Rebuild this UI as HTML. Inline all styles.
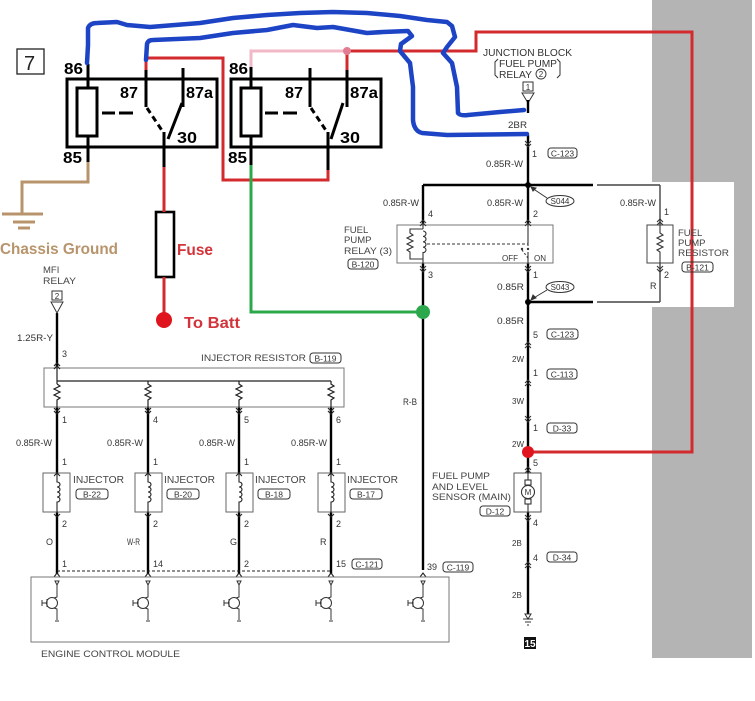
<!DOCTYPE html>
<html><head><meta charset="utf-8"><style>
html,body{margin:0;padding:0;background:#fff;}
svg{display:block;}
</style></head><body>
<svg width="755" height="701" viewBox="0 0 755 701" xmlns="http://www.w3.org/2000/svg" font-family="'Liberation Sans', Arial, sans-serif">
<rect width="755" height="701" fill="#fff"/>
<!-- gray panel -->
<rect x="652" y="0" width="100" height="658" fill="#b4b4b4"/>
<rect x="600" y="182" width="134" height="125" fill="#fff"/>

<!-- box 7 -->
<rect x="17" y="49" width="27" height="25" fill="none" stroke="#222" stroke-width="1.3"/>
<text x="24" y="70" font-size="20" fill="#222">7</text>

<!-- ============ RELAYS ============ -->
<g stroke="#000" stroke-width="3" fill="none">
  <rect x="67" y="79" width="150" height="68"/>
  <rect x="77" y="88" width="20" height="48"/>
  <line x1="88" y1="64" x2="88" y2="88"/>
  <line x1="88" y1="136" x2="88" y2="162"/>
  <line x1="146" y1="70" x2="146" y2="107"/>
  <line x1="183" y1="68" x2="183" y2="107"/>
  <line x1="182" y1="103" x2="168" y2="139"/>
  <line x1="147" y1="108" x2="163" y2="132" stroke-dasharray="6,4"/>
  <line x1="164" y1="132" x2="164" y2="167"/>
  <line x1="102" y1="113" x2="115" y2="113"/>
  <line x1="119" y1="113" x2="133" y2="113"/>

  <rect x="231" y="79" width="150" height="68"/>
  <rect x="241" y="88" width="20" height="48"/>
  <line x1="251" y1="67" x2="251" y2="88"/>
  <line x1="251" y1="136" x2="251" y2="165"/>
  <line x1="310" y1="68" x2="310" y2="107"/>
  <line x1="347" y1="70" x2="347" y2="107"/>
  <line x1="343" y1="103" x2="331" y2="139"/>
  <line x1="311" y1="108" x2="327" y2="132" stroke-dasharray="6,4"/>
  <line x1="328" y1="132" x2="328" y2="170"/>
  <line x1="265" y1="113" x2="278" y2="113"/>
  <line x1="283" y1="113" x2="297" y2="113"/>
</g>
<g font-size="16" font-weight="bold" fill="#000">
  <text x="64" y="74" textLength="19" lengthAdjust="spacingAndGlyphs">86</text>
  <text x="63" y="163" textLength="19" lengthAdjust="spacingAndGlyphs">85</text>
  <text x="120" y="98" textLength="18" lengthAdjust="spacingAndGlyphs">87</text>
  <text x="186" y="98" textLength="27" lengthAdjust="spacingAndGlyphs">87a</text>
  <text x="177" y="143" textLength="20" lengthAdjust="spacingAndGlyphs">30</text>
  <text x="229" y="74" textLength="19" lengthAdjust="spacingAndGlyphs">86</text>
  <text x="228" y="163" textLength="19" lengthAdjust="spacingAndGlyphs">85</text>
  <text x="285" y="98" textLength="18" lengthAdjust="spacingAndGlyphs">87</text>
  <text x="350" y="98" textLength="28" lengthAdjust="spacingAndGlyphs">87a</text>
  <text x="340" y="143" textLength="20" lengthAdjust="spacingAndGlyphs">30</text>
</g>

<!-- fuse -->
<rect x="156" y="212" width="18" height="65" fill="#fff" stroke="#000" stroke-width="2.6"/>

<!-- tan ground -->
<g stroke="#b8946c" stroke-width="3" fill="none">
  <path d="M88,162 L88,182 L22,182 L22,214"/>
  <line x1="2" y1="214" x2="43" y2="214"/>
  <line x1="13" y1="222" x2="35" y2="222"/>
  <line x1="18" y1="228" x2="30" y2="228"/>
</g>
<text x="0" y="254" font-size="16" font-weight="bold" fill="#b8946c" textLength="118" lengthAdjust="spacingAndGlyphs">Chassis Ground</text>

<!-- red/pink wires -->
<g fill="none" stroke-linejoin="miter">
  <path d="M146,70 L146,58 L223,58 L223,180 L328,180 L328,170" stroke="#d32a2e" stroke-width="3"/>
  <path d="M164,167 L164,212 M164,277 L164,318" stroke="#d32a2e" stroke-width="3"/>
  <path d="M251,67 L251,51 L347,51" stroke="#f2b8c8" stroke-width="3"/>
  <path d="M347,51 L476,51 L476,32 L692,32 L692,452 L528,452" stroke="#d32a2e" stroke-width="3"/>
  <path d="M347,51 L347,70" stroke="#d32a2e" stroke-width="3"/>
</g>
<circle cx="347" cy="51" r="4" fill="#e27c92"/>
<circle cx="164" cy="320" r="8" fill="#e0141e"/>
<text x="177" y="255" font-size="16" font-weight="bold" fill="#d3343a" textLength="36" lengthAdjust="spacingAndGlyphs">Fuse</text>
<text x="184" y="328" font-size="16" font-weight="bold" fill="#d3343a" textLength="56" lengthAdjust="spacingAndGlyphs">To Batt</text>

<!-- green -->
<path d="M251,165 L251,312 L423,312" fill="none" stroke="#2ca84c" stroke-width="3"/>

<!-- ============ RIGHT SCHEMATIC ============ -->
<g font-size="10" fill="#333">
  <text x="483" y="56" textLength="89" lengthAdjust="spacingAndGlyphs">JUNCTION BLOCK</text>
  <text x="499" y="67" textLength="58" lengthAdjust="spacingAndGlyphs">FUEL PUMP</text>
  <text x="499" y="78" textLength="33" lengthAdjust="spacingAndGlyphs">RELAY</text>
</g>
<circle cx="541" cy="74" r="5" fill="none" stroke="#333" stroke-width="0.9"/>
<text x="541" y="77" font-size="8" fill="#333" text-anchor="middle">2</text>
<path d="M498,59 L495,62 L495,75 L498,78 M557,59 L560,62 L560,75 L557,78" fill="none" stroke="#333" stroke-width="1"/>
<rect x="523" y="82" width="10" height="9" fill="#fff" stroke="#333" stroke-width="1"/>
<text x="528" y="90" font-size="8" fill="#333" text-anchor="middle">1</text>
<path d="M522,93 L534,93 L528,103 Z" fill="none" stroke="#333" stroke-width="1"/>
<line x1="528" y1="100" x2="528" y2="113" stroke="#000" stroke-width="2.4"/>

<!-- black wires -->
<g stroke="#000" stroke-width="2.4" fill="none">
  <line x1="528" y1="135" x2="528" y2="225"/>
  <line x1="528" y1="263" x2="528" y2="473"/>
  <line x1="528" y1="512" x2="528" y2="614"/>
  <line x1="423" y1="185" x2="423" y2="225"/>
  <line x1="423" y1="263" x2="423" y2="570"/>
  <line x1="423" y1="185" x2="593" y2="185"/>
  <line x1="528" y1="302" x2="593" y2="302"/>
  <!-- left injector side -->
  <line x1="57" y1="313" x2="57" y2="368"/>
  <line x1="57" y1="407" x2="57" y2="473"/>
  <line x1="148" y1="407" x2="148" y2="473"/>
  <line x1="239" y1="407" x2="239" y2="473"/>
  <line x1="331" y1="407" x2="331" y2="473"/>
  <line x1="57" y1="512" x2="57" y2="574"/>
  <line x1="148" y1="512" x2="148" y2="574"/>
  <line x1="239" y1="512" x2="239" y2="574"/>
  <line x1="331" y1="512" x2="331" y2="574"/>
</g>
<g stroke="#444" stroke-width="1.4" fill="none">
  <line x1="597" y1="185" x2="660" y2="185"/>
  <line x1="660" y1="185" x2="660" y2="225"/>
  <line x1="660" y1="263" x2="660" y2="302"/>
  <line x1="597" y1="302" x2="660" y2="302"/>
</g>
<circle cx="528" cy="185" r="3" fill="#000"/>
<circle cx="528" cy="302" r="3" fill="#000"/>

<!-- small labels right -->
<g font-size="9" fill="#333" lengthAdjust="spacingAndGlyphs">
  <text x="508" y="128" textLength="19" lengthAdjust="spacingAndGlyphs">2BR</text>
  <text x="532" y="157">1</text>
  <text x="486" y="167" textLength="37" lengthAdjust="spacingAndGlyphs">0.85R-W</text>
  <text x="383" y="206" textLength="36" lengthAdjust="spacingAndGlyphs">0.85R-W</text>
  <text x="487" y="206" textLength="36" lengthAdjust="spacingAndGlyphs">0.85R-W</text>
  <text x="620" y="206" textLength="36" lengthAdjust="spacingAndGlyphs">0.85R-W</text>
  <text x="428" y="217">4</text>
  <text x="533" y="217">2</text>
  <text x="428" y="278">3</text>
  <text x="533" y="278">1</text>
  <text x="502" y="261" font-size="8">OFF</text>
  <text x="534" y="261" font-size="8">ON</text>
  <text x="497" y="290" textLength="27" lengthAdjust="spacingAndGlyphs">0.85R</text>
  <text x="497" y="324" textLength="27" lengthAdjust="spacingAndGlyphs">0.85R</text>
  <text x="533" y="338">5</text>
  <text x="664" y="215">1</text>
  <text x="664" y="278">2</text>
  <text x="650" y="289">R</text>
  <text x="512" y="362" font-size="8">2W</text>
  <text x="533" y="376">1</text>
  <text x="512" y="404" font-size="8">3W</text>
  <text x="533" y="431">1</text>
  <text x="512" y="447" font-size="8">2W</text>
  <text x="533" y="466">5</text>
  <text x="533" y="526">4</text>
  <text x="512" y="546" font-size="8">2B</text>
  <text x="533" y="561">4</text>
  <text x="512" y="598" font-size="8">2B</text>
  <text x="403" y="405" textLength="14" lengthAdjust="spacingAndGlyphs">R-B</text>
  <text x="427" y="570">39</text>
</g>
<g font-size="9.5" fill="#444">
  <text x="344" y="233">FUEL</text>
  <text x="344" y="243">PUMP</text>
  <text x="344" y="254" textLength="48" lengthAdjust="spacingAndGlyphs">RELAY (3)</text>
  <text x="678" y="236">FUEL</text>
  <text x="678" y="246">PUMP</text>
  <text x="678" y="256" textLength="51" lengthAdjust="spacingAndGlyphs">RESISTOR</text>
  <text x="432" y="479" textLength="58" lengthAdjust="spacingAndGlyphs">FUEL PUMP</text>
  <text x="432" y="490" textLength="56" lengthAdjust="spacingAndGlyphs">AND LEVEL</text>
  <text x="432" y="500" textLength="79" lengthAdjust="spacingAndGlyphs">SENSOR (MAIN)</text>
</g>

<!-- boxed connector labels -->
<g fill="none" stroke="#333" stroke-width="1">
  <rect x="548" y="148" width="29" height="10" rx="3"/>
  <rect x="348" y="259" width="30" height="10" rx="3"/>
  <rect x="547" y="329" width="31" height="10" rx="3"/>
  <rect x="682" y="262" width="31" height="10" rx="3"/>
  <rect x="547" y="369" width="30" height="10" rx="3"/>
  <rect x="547" y="423" width="30" height="10" rx="3"/>
  <rect x="480" y="506" width="30" height="10" rx="3"/>
  <rect x="547" y="552" width="30" height="10" rx="3"/>
  <rect x="443" y="562" width="30" height="10" rx="3"/>
  <ellipse cx="560" cy="201" rx="14" ry="5.5"/>
  <ellipse cx="560" cy="287" rx="14" ry="5.5"/>
</g>
<g font-size="8.5" fill="#333" text-anchor="middle">
  <text x="562.5" y="156.5">C-123</text>
  <text x="363" y="267.5">B-120</text>
  <text x="562.5" y="337.5">C-123</text>
  <text x="697.5" y="270.5">B-121</text>
  <text x="562" y="377.5">C-113</text>
  <text x="562" y="431.5">D-33</text>
  <text x="495" y="514.5">D-12</text>
  <text x="562" y="560.5">D-34</text>
  <text x="458" y="570.5">C-119</text>
  <text x="560" y="204" font-size="8">S044</text>
  <text x="560" y="290" font-size="8">S043</text>
</g>
<g stroke="#333" stroke-width="1" fill="#333">
  <line x1="547" y1="198" x2="532" y2="188"/>
  <path d="M531,187 L536,188 L533,191 Z"/>
  <line x1="547" y1="290" x2="532" y2="299"/>
  <path d="M531,300 L533,295 L536,298 Z"/>
</g>

<!-- fuel pump relay box -->
<rect x="397" y="225" width="156" height="38" fill="none" stroke="#777" stroke-width="1"/>
<g stroke="#333" stroke-width="1.1" fill="none">
  <path d="M423,225 L423,229 M423,259 L423,263"/>
  <path d="M423,229 L410,229 L410,233 l3,2 l-6,3 l6,3 l-6,3 l6,3 l-6,3 l3,2 L410,259 L423,259"/>
  <path d="M423,231 a3,2.7 0 0 1 0,5.4 a3,2.7 0 0 1 0,5.4 a3,2.7 0 0 1 0,5.4 a3,2.7 0 0 1 0,5.4 L423,259"/>
  <line x1="427" y1="244" x2="528" y2="244" stroke-dasharray="3,2"/>
  <path d="M528,225 L528,246 M528,252 L528,263"/>
  <path d="M522,250 L528,258" stroke-dasharray="2,2"/>
  <!-- chevrons -->
  <path d="M420,223 l3,-3 l3,3 M420,226 l3,-3 l3,3"/>
  <path d="M525,223 l3,-3 l3,3 M525,226 l3,-3 l3,3"/>
  <path d="M420,266 l3,3 l3,-3 M420,269 l3,3 l3,-3"/>
  <path d="M525,266 l3,3 l3,-3 M525,269 l3,3 l3,-3"/>
  <path d="M525,141 l3,3 l3,-3 M525,144 l3,3 l3,-3"/>
</g>
<circle cx="522" cy="249" r="1.2" fill="#333"/>
<circle cx="528" cy="249" r="1.2" fill="#333"/>

<!-- fuel pump resistor -->
<rect x="647" y="225" width="26" height="38" fill="#fff" stroke="#444" stroke-width="1"/>
<g stroke="#333" stroke-width="1.1" fill="none">
  <path d="M660,225 L660,233 l3,2 l-6,3 l6,3 l-6,3 l6,3 l-6,3 l3,2 L660,263"/>
  <path d="M657,222 l3,-3 l3,3 M657,225 l3,-3 l3,3"/>
  <path d="M657,266 l3,3 l3,-3 M657,269 l3,3 l3,-3"/>
</g>

<!-- pump column chevrons -->
<g stroke="#333" stroke-width="1" fill="none">
  <path d="M525,345 l3,-3 l3,3 M525,348 l3,-3 l3,3"/>
  <path d="M525,383 l3,-3 l3,3 M525,386 l3,-3 l3,3"/>
  <path d="M525,416 l3,3 l3,-3 M525,419 l3,3 l3,-3"/>
  <path d="M525,470 l3,-3 l3,3 M525,473 l3,-3 l3,3"/>
  <path d="M525,515 l3,3 l3,-3 M525,518 l3,3 l3,-3"/>
  <path d="M525,565 l3,-3 l3,3 M525,568 l3,-3 l3,3"/>
</g>
<!-- motor -->
<rect x="514" y="473" width="27" height="39" fill="#fff" stroke="#555" stroke-width="1"/>
<g stroke="#333" stroke-width="1.1" fill="none">
  <line x1="528" y1="473" x2="528" y2="480"/>
  <rect x="525" y="480" width="6" height="5"/>
  <circle cx="528" cy="492" r="6.5"/>
  <rect x="525" y="499" width="6" height="5"/>
  <line x1="528" y1="504" x2="528" y2="512"/>
</g>
<text x="528" y="495" font-size="8" fill="#333" text-anchor="middle">M</text>
<!-- ground -->
<g stroke="#333" stroke-width="1" fill="none">
  <path d="M525,614 L531,614 L528,619 Z"/>
  <line x1="523" y1="619" x2="533" y2="619"/>
  <line x1="525" y1="622" x2="531" y2="622"/>
  <line x1="527" y1="625" x2="529" y2="625"/>
</g>
<rect x="524" y="637" width="12" height="12" fill="#111"/>
<text x="530" y="647" font-size="10" font-weight="bold" fill="#fff" text-anchor="middle">15</text>

<!-- ============ LEFT SCHEMATIC ============ -->
<g font-size="9.5" fill="#444">
  <text x="43" y="273">MFI</text>
  <text x="43" y="284" textLength="33" lengthAdjust="spacingAndGlyphs">RELAY</text>
  <text x="201" y="361" textLength="105" lengthAdjust="spacingAndGlyphs">INJECTOR RESISTOR</text>
  <text x="41" y="657" textLength="139" lengthAdjust="spacingAndGlyphs">ENGINE CONTROL MODULE</text>
  <text x="73" y="483" font-size="10" textLength="51" lengthAdjust="spacingAndGlyphs">INJECTOR</text>
  <text x="164" y="483" font-size="10" textLength="51" lengthAdjust="spacingAndGlyphs">INJECTOR</text>
  <text x="255" y="483" font-size="10" textLength="51" lengthAdjust="spacingAndGlyphs">INJECTOR</text>
  <text x="347" y="483" font-size="10" textLength="51" lengthAdjust="spacingAndGlyphs">INJECTOR</text>
</g>
<rect x="52" y="291" width="10" height="9" fill="#fff" stroke="#333" stroke-width="1"/>
<text x="57" y="299" font-size="8" fill="#333" text-anchor="middle">2</text>
<path d="M51,302 L63,302 L57,313 Z" fill="none" stroke="#333" stroke-width="1"/>

<g font-size="9" fill="#333">
  <text x="17" y="341" textLength="36" lengthAdjust="spacingAndGlyphs">1.25R-Y</text>
  <text x="62" y="357">3</text>
  <text x="62" y="423">1</text><text x="153" y="423">4</text><text x="244" y="423">5</text><text x="336" y="423">6</text>
  <text x="16" y="446" textLength="36" lengthAdjust="spacingAndGlyphs">0.85R-W</text>
  <text x="107" y="446" textLength="36" lengthAdjust="spacingAndGlyphs">0.85R-W</text>
  <text x="199" y="446" textLength="36" lengthAdjust="spacingAndGlyphs">0.85R-W</text>
  <text x="291" y="446" textLength="36" lengthAdjust="spacingAndGlyphs">0.85R-W</text>
  <text x="62" y="465">1</text><text x="153" y="465">1</text><text x="244" y="465">1</text><text x="336" y="465">1</text>
  <text x="62" y="482">1</text><text x="153" y="482">2</text><text x="244" y="482">3</text><text x="336" y="482">4</text>
  <text x="62" y="527">2</text><text x="153" y="527">2</text><text x="244" y="527">2</text><text x="336" y="527">2</text>
  <text x="46" y="545">O</text><text x="127" y="545" textLength="13" lengthAdjust="spacingAndGlyphs">W-R</text><text x="230" y="545">G</text><text x="320" y="545">R</text>
  <text x="62" y="567">1</text><text x="153" y="567">14</text><text x="244" y="567">2</text><text x="336" y="567">15</text>
</g>
<g fill="none" stroke="#333" stroke-width="1">
  <rect x="310" y="353" width="31" height="10" rx="3"/>
  <rect x="76" y="489" width="32" height="10" rx="3"/>
  <rect x="167" y="489" width="32" height="10" rx="3"/>
  <rect x="258" y="489" width="32" height="10" rx="3"/>
  <rect x="350" y="489" width="32" height="10" rx="3"/>
  <rect x="352" y="559" width="30" height="10" rx="3"/>
</g>
<g font-size="8.5" fill="#333" text-anchor="middle">
  <text x="325.5" y="361.5">B-119</text>
  <text x="92" y="497.5">B-22</text>
  <text x="183" y="497.5">B-20</text>
  <text x="274" y="497.5">B-18</text>
  <text x="366" y="497.5">B-17</text>
  <text x="367" y="567.5">C-121</text>
</g>

<!-- injector resistor box -->
<rect x="44" y="368" width="300" height="39" fill="none" stroke="#777" stroke-width="1"/>
<g stroke="#222" stroke-width="1.2" fill="none">
  <line x1="57" y1="368" x2="57" y2="384"/>
  <line x1="57" y1="381" x2="331" y2="381"/>
  <path d="M57,384 l3,2 l-6,3 l6,3 l-6,3 l6,3 l-3,2 L57,407"/>
  <path d="M148,381 L148,384 l3,2 l-6,3 l6,3 l-6,3 l6,3 l-3,2 L148,407"/>
  <path d="M239,381 L239,384 l3,2 l-6,3 l6,3 l-6,3 l6,3 l-3,2 L239,407"/>
  <path d="M331,381 L331,384 l3,2 l-6,3 l6,3 l-6,3 l6,3 l-3,2 L331,407"/>
  <path d="M54,366 l3,-3 l3,3 M54,369 l3,-3 l3,3"/>
  <path d="M54,408 l3,3 l3,-3 M54,411 l3,3 l3,-3"/>
  <path d="M145,408 l3,3 l3,-3 M145,411 l3,3 l3,-3"/>
  <path d="M236,408 l3,3 l3,-3 M236,411 l3,3 l3,-3"/>
  <path d="M328,408 l3,3 l3,-3 M328,411 l3,3 l3,-3"/>
</g>

<!-- injectors -->
<g stroke="#666" stroke-width="1" fill="#fff">
  <rect x="43" y="473" width="27" height="39"/>
  <rect x="135" y="473" width="27" height="39"/>
  <rect x="226" y="473" width="27" height="39"/>
  <rect x="318" y="473" width="27" height="39"/>
</g>
<g stroke="#222" stroke-width="1.1" fill="none">
  <path d="M57,473 L57,482 a3,2.5 0 0 1 0,5 a3,2.5 0 0 1 0,5 a3,2.5 0 0 1 0,5 a3,2.5 0 0 1 0,5 L57,512"/>
  <path d="M148,473 L148,482 a3,2.5 0 0 1 0,5 a3,2.5 0 0 1 0,5 a3,2.5 0 0 1 0,5 a3,2.5 0 0 1 0,5 L148,512"/>
  <path d="M239,473 L239,482 a3,2.5 0 0 1 0,5 a3,2.5 0 0 1 0,5 a3,2.5 0 0 1 0,5 a3,2.5 0 0 1 0,5 L239,512"/>
  <path d="M331,473 L331,482 a3,2.5 0 0 1 0,5 a3,2.5 0 0 1 0,5 a3,2.5 0 0 1 0,5 a3,2.5 0 0 1 0,5 L331,512"/>
  <path d="M54,476 l3,-3 l3,3 M145,476 l3,-3 l3,3 M236,476 l3,-3 l3,3 M328,476 l3,-3 l3,3"/>
  <path d="M54,514 l3,3 l3,-3 M145,514 l3,3 l3,-3 M236,514 l3,3 l3,-3 M328,514 l3,3 l3,-3"/>
  <line x1="57" y1="571" x2="331" y2="571" stroke-dasharray="3,2"/>
  <path d="M54,577 l3,-4 l3,4 M145,577 l3,-4 l3,4 M236,577 l3,-4 l3,4 M328,577 l3,-4 l3,4 M420,577 l3,-4 l3,4"/>
</g>

<!-- ECM -->
<rect x="31" y="577" width="418" height="65" fill="none" stroke="#777" stroke-width="1"/>
<g stroke="#333" stroke-width="1" fill="none">
  <g id="t1">
    <path d="M55,581 L59,581 L57,585 Z"/>
    <path d="M57,585 L57,597 L54,598"/>
    <circle cx="52" cy="603" r="5.5"/>
    <path d="M47,599 L47,607 M47,603 L42,603 M42,600 L42,606"/>
    <path d="M54,608 L57,609 L57,620 M55,621 L59,621"/>
  </g>
  <use href="#t1" x="91"/>
  <use href="#t1" x="182"/>
  <use href="#t1" x="274"/>
  <use href="#t1" x="366"/>
</g>

<!-- ============ BLUE HAND-DRAWN WIRES ============ -->
<g fill="none" stroke="#1e44c6" stroke-width="4.5" stroke-linejoin="round" stroke-linecap="round">
  <path d="M87,63 L88,45 L88,28 Q90,23 97,23 L117,22 L127,25 L150,27 L175,25 L200,23 L233,18 L267,15 L300,13 L333,12 L367,13 L400,16 L427,20 L447,22 L452,26 L455,37 L447,47 L443,53 L452,63 L457,87 L458,113 Q460,116 468,115 L500,112 L524,110"/>
  <path d="M146,60 L147,44 Q148,40 153,40 L200,38 L233,33 L267,30 L293,25 L317,28 L333,27 L367,33 L383,32 L408,31 L412,36 L401,44 L400,51 L410,63 L413,87 L413,120 Q414,131 422,133 L447,135 L527,134"/>
</g>

<!-- dots on top -->
<circle cx="423" cy="312" r="7" fill="#2ca84c"/>
<circle cx="528" cy="452" r="6" fill="#e0141e"/>
</svg>
</body></html>
